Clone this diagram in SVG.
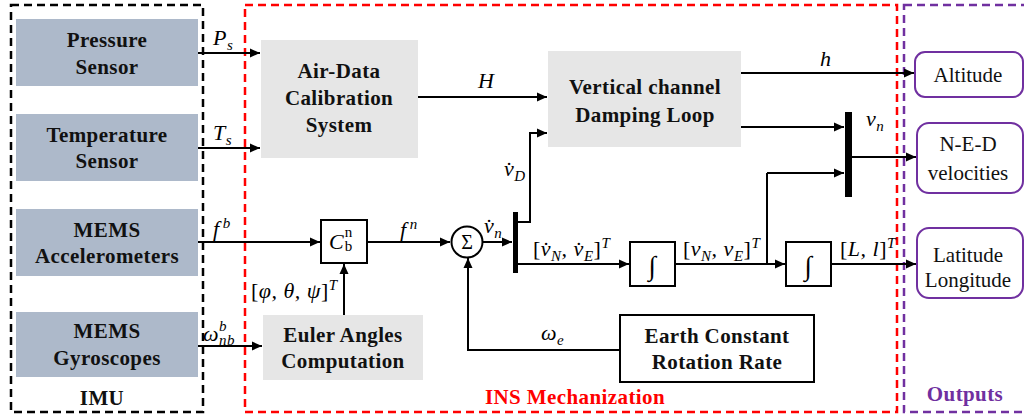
<svg xmlns="http://www.w3.org/2000/svg" width="1024" height="418" viewBox="0 0 1024 418">
<defs>
<marker id="ah" viewBox="0 0 10 10" refX="10" refY="5" markerWidth="10" markerHeight="10" markerUnits="userSpaceOnUse" orient="auto">
<path d="M0,0.5 L10,5 L0,9.5 Z" fill="#000"/>
</marker>
<style>
.frame{fill:none;stroke-width:2.5;stroke-dasharray:8 5}
.sensor{fill:#adb9ca}
.grey{fill:#e6e6e6}
.blk{fill:#fff;stroke:#000;stroke-width:2}
.out{fill:#fff;stroke:#7030a0;stroke-width:2}
.bt{font-family:"Liberation Serif",serif;font-weight:bold;font-size:21px;letter-spacing:0.4px;fill:#111;text-anchor:middle}
.ot{font-family:"Liberation Serif",serif;font-size:21px;fill:#111;text-anchor:middle}
.m{font-family:"Liberation Serif",serif;font-style:italic;font-size:22px;letter-spacing:0.5px;fill:#000}
.ms{font-size:15px}
.up{font-style:normal}
.ln{fill:none;stroke:#000;stroke-width:2}
.ar{fill:none;stroke:#000;stroke-width:2;marker-end:url(#ah)}
</style>
</defs>

<g id="frames">
<rect class="frame" x="11" y="5" width="192" height="407" stroke="#000"/>
<rect class="frame" x="245" y="5" width="652" height="407" stroke="#ff0000"/>
<rect class="frame" x="904" y="5" width="122" height="407" stroke="#7030a0"/>
<text x="102" y="405" class="bt">IMU</text>
<text x="575" y="404" class="bt" style="fill:#ff0000">INS Mechanization</text>
<text x="965" y="401" class="bt" style="fill:#7030a0">Outputs</text>
</g>

<g id="pressure">
<rect class="sensor" x="16" y="19" width="182" height="67"/>
<text x="107" y="47" class="bt">Pressure</text>
<text x="107" y="74" class="bt">Sensor</text>
</g>
<g id="temperature">
<rect class="sensor" x="16" y="114" width="182" height="67"/>
<text x="107" y="142" class="bt">Temperature</text>
<text x="107" y="168" class="bt">Sensor</text>
</g>
<g id="accelerometers">
<rect class="sensor" x="16" y="209" width="182" height="67"/>
<text x="107" y="237" class="bt">MEMS</text>
<text x="107" y="263" class="bt">Accelerometers</text>
</g>
<g id="gyroscopes">
<rect class="sensor" x="16" y="312" width="182" height="65"/>
<text x="107" y="338" class="bt">MEMS</text>
<text x="107" y="365" class="bt">Gyroscopes</text>
</g>

<g id="airdata">
<rect class="grey" x="261" y="40" width="157" height="118"/>
<text x="339" y="78" class="bt">Air-Data</text>
<text x="339" y="105" class="bt">Calibration</text>
<text x="339" y="132" class="bt">System</text>
</g>
<g id="vertical">
<rect class="grey" x="548" y="51" width="193" height="96"/>
<text x="645" y="94" class="bt">Vertical channel</text>
<text x="645" y="122" class="bt">Damping Loop</text>
</g>
<g id="euler">
<rect class="grey" x="263" y="315" width="160" height="65"/>
<text x="343" y="342" class="bt">Euler Angles</text>
<text x="343" y="368" class="bt">Computation</text>
</g>
<g id="earth">
<rect class="blk" x="620" y="315" width="194" height="67"/>
<text x="717" y="343" class="bt">Earth Constant</text>
<text x="717" y="369" class="bt">Rotation Rate</text>
</g>
<g id="cbn">
<rect class="blk" x="321" y="220" width="46" height="43"/>
<text x="329" y="249" class="m" style="letter-spacing:0">C<tspan class="ms up" dx="1" dy="-12">n</tspan><tspan class="ms up" dx="-7.5" dy="14">b</tspan></text>
</g>
<g id="sum">
<circle cx="467" cy="242" r="15.5" fill="#fff" stroke="#000" stroke-width="2"/>
<text x="467" y="249" font-family="Liberation Serif,serif" font-size="20" text-anchor="middle">Σ</text>
</g>
<g id="split1">
<rect x="513" y="212" width="5" height="61" fill="#000"/>
</g>
<g id="int1">
<rect class="blk" x="630" y="242" width="45" height="44"/>
<text x="652" y="275" font-family="Liberation Serif,serif" font-size="27" text-anchor="middle">∫</text>
</g>
<g id="int2">
<rect class="blk" x="786" y="242" width="45" height="44"/>
<text x="808" y="275" font-family="Liberation Serif,serif" font-size="27" text-anchor="middle">∫</text>
</g>
<g id="merge">
<rect x="845" y="112" width="7" height="85" fill="#000"/>
</g>
<g id="altitude">
<rect class="out" x="915" y="52" width="108" height="45" rx="10"/>
<text x="968" y="82" class="ot">Altitude</text>
</g>
<g id="ned">
<rect class="out" x="917" y="123" width="106" height="70" rx="12"/>
<text x="968" y="151" class="ot">N-E-D</text>
<text x="968" y="180" class="ot">velocities</text>
</g>
<g id="latlon">
<rect class="out" x="917" y="228" width="106" height="70" rx="12"/>
<text x="968" y="262" class="ot">Latitude</text>
<text x="968" y="287" class="ot">Longitude</text>
</g>

<g id="connectors">
<path class="ar" d="M198,53 H260"/>
<path class="ar" d="M198,148 H260"/>
<path class="ar" d="M198,242 H320"/>
<path class="ar" d="M198,346 H262"/>
<path class="ar" d="M344,315 V264"/>
<path class="ar" d="M418,97 H547"/>
<path class="ar" d="M367,242 H450"/>
<path class="ar" d="M482,242 H512"/>
<path class="ar" d="M518,222 H530 V133 H547"/>
<path class="ar" d="M518,264 H629"/>
<path class="ar" d="M675,264 H785"/>
<path class="ln" d="M767,264 V173"/>
<path class="ar" d="M767,173 H844"/>
<path class="ar" d="M741,127 H844"/>
<path class="ar" d="M741,73 H914"/>
<path class="ar" d="M852,157 H916"/>
<path class="ar" d="M831,264 H916"/>
<path class="ar" d="M620,350 H468 V258"/>
</g>

<g id="labels">
<text x="213" y="45" class="m">P<tspan class="ms" dy="5">s</tspan></text>
<text x="213" y="140" class="m">T<tspan class="ms" dy="5">s</tspan></text>
<text x="213" y="236" class="m">f<tspan class="ms" dx="3" dy="-8">b</tspan></text>
<text x="203" y="341" class="m">ω<tspan class="ms" dx="0" dy="-10">b</tspan><tspan class="ms" dx="-8" dy="14">nb</tspan></text>
<text x="251" y="298" class="m"><tspan class="up">[</tspan>φ, θ, ψ<tspan class="up">]</tspan><tspan class="ms" dy="-8">T</tspan></text>
<text x="400" y="237" class="m">f<tspan class="ms" dx="3" dy="-8">n</tspan></text>
<text x="484" y="233" class="m">v̇<tspan class="ms" dy="5">n</tspan></text>
<text x="504" y="176" class="m">v̇<tspan class="ms" dy="5">D</tspan></text>
<text x="478" y="88" class="m">H</text>
<text x="533" y="256" class="m"><tspan class="up">[</tspan>v̇<tspan class="ms" dy="5">N</tspan><tspan dy="-5">, v̇</tspan><tspan class="ms" dy="5">E</tspan><tspan class="up" dy="-5">]</tspan><tspan class="ms" dy="-8">T</tspan></text>
<text x="683" y="256" class="m"><tspan class="up">[</tspan>v<tspan class="ms" dy="5">N</tspan><tspan dy="-5">, v</tspan><tspan class="ms" dy="5">E</tspan><tspan class="up" dy="-5">]</tspan><tspan class="ms" dy="-8">T</tspan></text>
<text x="541" y="340" class="m">ω<tspan class="ms" dy="5">e</tspan></text>
<text x="820" y="66" class="m">h</text>
<text x="866" y="126" class="m">v<tspan class="ms" dy="5">n</tspan></text>
<text x="840" y="256" class="m"><tspan class="up">[</tspan>L, l<tspan class="up">]</tspan><tspan class="ms" dy="-8">T</tspan></text>
</g>
</svg>
